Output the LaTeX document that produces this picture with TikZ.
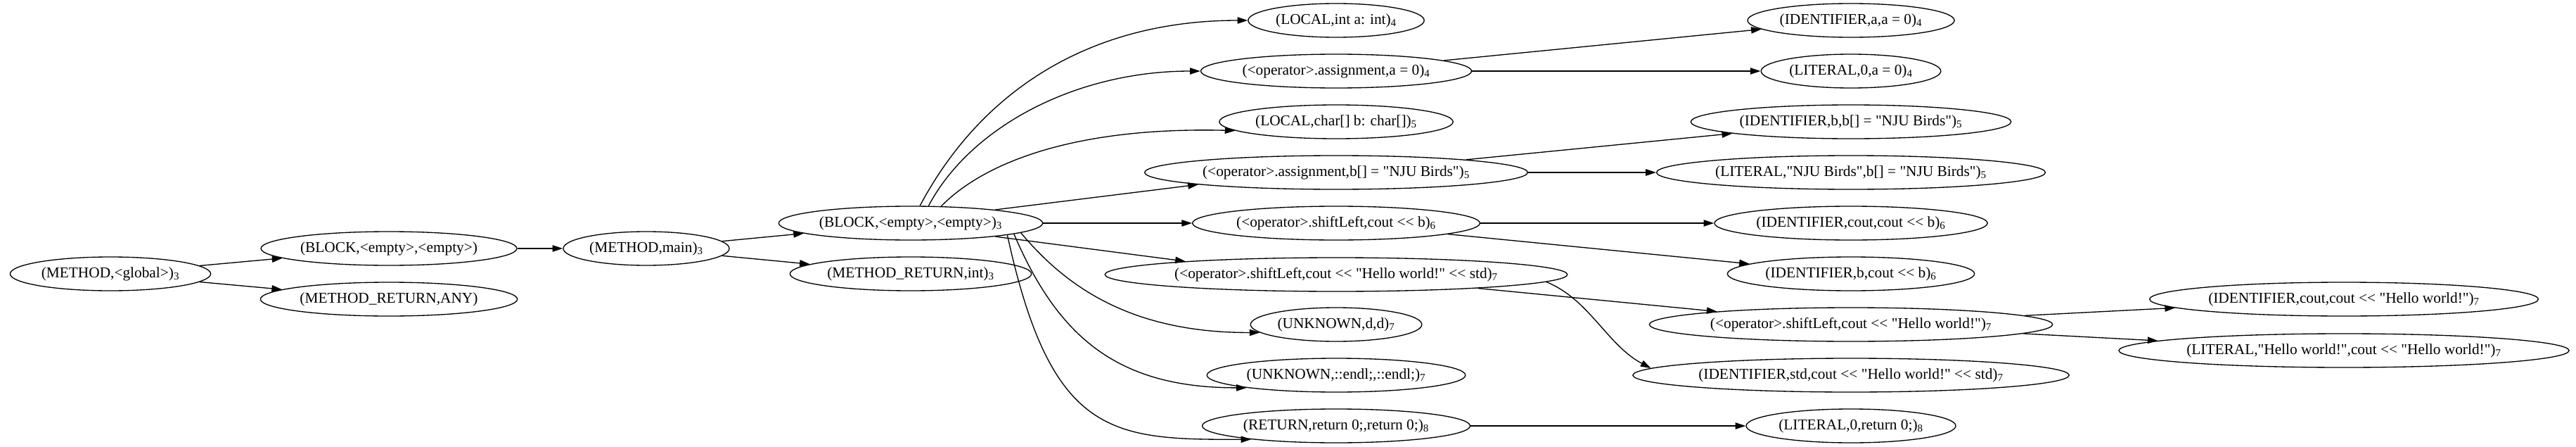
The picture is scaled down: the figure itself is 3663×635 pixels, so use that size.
\documentclass[tikz,border=0pt]{standalone}
\usepackage{fontspec}
\newfontfamily\gvfont{Liberation Serif}
\usetikzlibrary{shapes.geometric,arrows.meta}

\begin{document}
\begin{tikzpicture}[x=0.75pt, y=-0.75pt,
    ast/.style={draw, ellipse, line width=1pt, minimum height=36pt, inner xsep=2pt, inner ysep=0pt, font=\gvfont\fontsize{16}{18}\selectfont},
    edge/.style={line width=1pt, -{Triangle[length=11pt, width=7pt]}}]
      \useasboundingbox (0,0) rectangle (3663,635);

      \node[ast] (glob) at (157,389) {(METHOD,<global>)\textsubscript{3}};
      \node[ast] (blk) at (553,353) {(BLOCK,<empty>,<empty>)};
      \node[ast] (mret) at (553,425) {(METHOD\_RETURN,ANY)};
      \node[ast] (main) at (919,353) {(METHOD,main)\textsubscript{3}};
      \node[ast] (body) at (1295,317) {(BLOCK,<empty>,<empty>)\textsubscript{3}};
      \node[ast] (iret) at (1295,389) {(METHOD\_RETURN,int)\textsubscript{3}};

      \node[ast] (loca) at (1900,29) {(LOCAL,int a: int)\textsubscript{4}};
      \node[ast] (asga) at (1900,101) {(<operator>.assignment,a = 0)\textsubscript{4}};
      \node[ast] (locb) at (1900,173) {(LOCAL,char[] b: char[])\textsubscript{5}};
      \node[ast] (asgb) at (1900,245) {(<operator>.assignment,b[] = "NJU Birds")\textsubscript{5}};
      \node[ast] (shlb) at (1900,317) {(<operator>.shiftLeft,cout << b)\textsubscript{6}};
      \node[ast] (shls) at (1900,390) {(<operator>.shiftLeft,cout << "Hello world!" << std)\textsubscript{7}};
      \node[ast] (unkd) at (1900,461) {(UNKNOWN,d,d)\textsubscript{7}};
      \node[ast] (unke) at (1900,533) {(UNKNOWN,::endl;,::endl;)\textsubscript{7}};
      \node[ast] (ret) at (1900,605) {(RETURN,return 0;,return 0;)\textsubscript{8}};

      \node[ast] (ida) at (2632,29) {(IDENTIFIER,a,a = 0)\textsubscript{4}};
      \node[ast] (lita) at (2632,101) {(LITERAL,0,a = 0)\textsubscript{4}};
      \node[ast] (idb) at (2632,173) {(IDENTIFIER,b,b[] = "NJU Birds")\textsubscript{5}};
      \node[ast] (litb) at (2632,245) {(LITERAL,"NJU Birds",b[] = "NJU Birds")\textsubscript{5}};
      \node[ast] (idcout) at (2632,317) {(IDENTIFIER,cout,cout << b)\textsubscript{6}};
      \node[ast] (idbc) at (2632,389) {(IDENTIFIER,b,cout << b)\textsubscript{6}};
      \node[ast] (shlh) at (2632,461) {(<operator>.shiftLeft,cout << "Hello world!")\textsubscript{7}};
      \node[ast] (idstd) at (2632,533) {(IDENTIFIER,std,cout << "Hello world!" << std)\textsubscript{7}};
      \node[ast] (litr) at (2632,605) {(LITERAL,0,return 0;)\textsubscript{8}};

      \node[ast] (idch) at (3333,425) {(IDENTIFIER,cout,cout << "Hello world!")\textsubscript{7}};
      \node[ast] (lith) at (3333,498) {(LITERAL,"Hello world!",cout << "Hello world!")\textsubscript{7}};

      \draw[edge] (glob) -- (blk);
      \draw[edge] (glob) -- (mret);
      \draw[edge] (blk) -- (main);
      \draw[edge] (main) -- (body);
      \draw[edge] (main) -- (iret);

      \draw[edge] (body.62) .. controls (1400,120) and (1560,29) .. (loca.west);
      \draw[edge] (body.44) .. controls (1380,180) and (1530,101) .. (asga.west);
      \draw[edge] (body.29) .. controls (1400,230) and (1530,180) .. (locb.185);
      \draw[edge] (body.9) -- (asgb.185);
      \draw[edge] (body.east) -- (shlb.west);
      \draw[edge] (body.351) -- (shls.175);
      \draw[edge] (body.355) .. controls (1510,400) and (1600,473) .. (unkd.186);
      \draw[edge] (body.354) .. controls (1505,480) and (1590,551) .. (unke.188);
      \draw[edge] (body.353) .. controls (1495,620) and (1580,625) .. (ret.189);

      \draw[edge] (asga) -- (ida);
      \draw[edge] (asga) -- (lita);
      \draw[edge] (asgb) -- (idb);
      \draw[edge] (asgb) -- (litb);
      \draw[edge] (shlb) -- (idcout);
      \draw[edge] (shlb) -- (idbc);
      \draw[edge] (shls) -- (shlh);
      \draw[edge] (shls.358) .. controls (2260,425) and (2285,490) .. (idstd.178);
      \draw[edge] (ret) -- (litr);
      \draw[edge] (shlh) -- (idch);
      \draw[edge] (shlh) -- (lith);
\end{tikzpicture}
\end{document}
